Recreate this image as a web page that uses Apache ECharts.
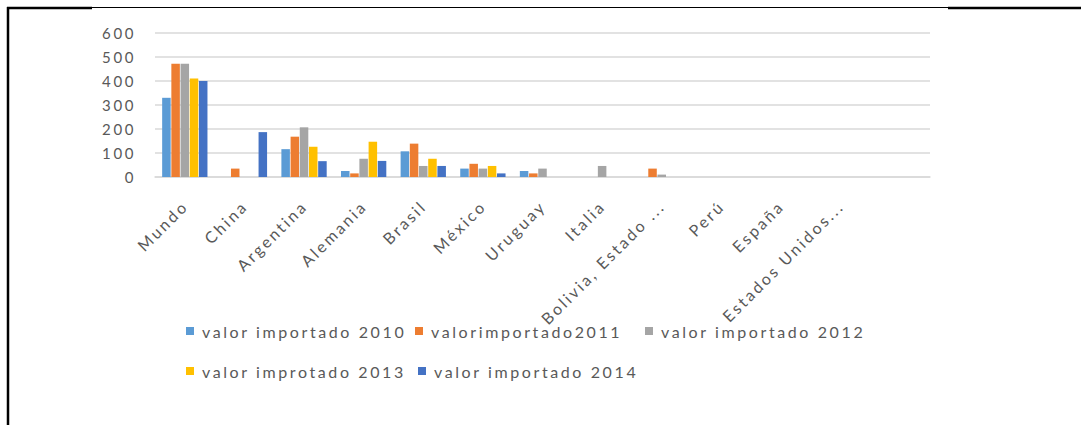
<!DOCTYPE html>
<html>
<head>
<meta charset="utf-8">
<script src="https://cdn.jsdelivr.net/npm/echarts@6/dist/echarts.min.js"></script>
<style>
  html, body { margin: 0; padding: 0; background: #fff; }
  #chart { width: 1081px; height: 425px; }
  /* spaced-out lettering used for the chart labels */
  #chart text { letter-spacing: 2.6px; }
</style>
</head>
<body>
<div id="chart"></div>
<script>
// Countries (the last slot has no name)
const categories = ['Mundo', 'China', 'Argentina', 'Alemania', 'Brasil', 'México', 'Uruguay',
  'Italia', 'Bolivia, Estado ...', 'Perú', 'España', 'Estados Unidos...', ' '];
const seriesNames = ['valor importado 2010', 'valorimportado2011', 'valor importado 2012',
  'valor improtado 2013', 'valor importado 2014'];
const v2010 = [330, 0, 116, 25, 107, 35, 25, 0, 0, 0, 0, 0, 0];
const v2011 = [472, 35, 168, 15, 139, 55, 15, 0, 35, 0, 0, 0, 0];
const v2012 = [472, 0, 207, 76, 46, 35, 35, 46, 10, 0, 0, 0, 0];
const v2013 = [410, 0, 126, 147, 76, 46, 0, 0, 0, 0, 0, 0, 0];
const v2014 = [400, 187, 66, 67, 46, 15, 0, 0, 0, 0, 0, 0, 0];
const yTicks = [0, 100, 200, 300, 400, 500, 600];

const values = [v2010, v2011, v2012, v2013, v2014];
const colors = ['#5B9BD5', '#ED7D31', '#A5A5A5', '#FFC000', '#4472C4'];
const textColor = '#595959';
const font = 'Lato';

// one legend block per series, laid out in two rows
const legendSpots = [
  { left: 186, top: 323 }, { left: 415, top: 323 }, { left: 645, top: 323 },
  { left: 186, top: 363 }, { left: 418, top: 363 }
];
const legends = seriesNames.map((name, i) => ({
  data: [name],
  left: legendSpots[i].left,
  top: legendSpots[i].top,
  itemWidth: 8,
  itemHeight: 8,
  icon: 'rect',
  padding: 0,
  selectedMode: false,
  textStyle: { color: textColor, fontFamily: font, fontSize: 16, padding: [0, 0, 0, 3] }
}));

const chart = echarts.init(document.getElementById('chart'), null, { renderer: 'svg' });
chart.setOption({
  animation: false,
  backgroundColor: '#ffffff',
  legend: legends,
  grid: { left: 155, right: 151, top: 33, bottom: 248, containLabel: false, outerBoundsMode: 'none' },
  xAxis: {
    type: 'category',
    data: categories,
    axisLine: { lineStyle: { color: '#d9d9d9', width: 1.5 } },
    axisTick: { show: false },
    axisLabel: {
      interval: 0, rotate: 45, margin: 26,
      color: textColor, fontFamily: font, fontSize: 16
    }
  },
  yAxis: {
    type: 'value',
    min: yTicks[0],
    max: yTicks[yTicks.length - 1],
    interval: yTicks[1] - yTicks[0],
    axisLine: { show: false },
    axisTick: { show: false },
    axisLabel: { color: textColor, fontFamily: font, fontSize: 15, margin: 19 },
    splitLine: { lineStyle: { color: '#d9d9d9', width: 1.5 } }
  },
  series: seriesNames.map((name, i) => ({
    name,
    type: 'bar',
    data: values[i],
    barCategoryGap: '24%',
    barGap: '8%',
    itemStyle: { color: colors[i] }
  })),
  graphic: [
    // frame lines
    { type: 'line', shape: { x1: 7, y1: 8, x2: 92, y2: 8 }, style: { stroke: '#000', lineWidth: 2.5 } },
    { type: 'line', shape: { x1: 92, y1: 7.5, x2: 948, y2: 7.5 }, style: { stroke: '#000', lineWidth: 1 } },
    { type: 'line', shape: { x1: 948, y1: 8, x2: 1081, y2: 8 }, style: { stroke: '#000', lineWidth: 2.5 } },
    { type: 'line', shape: { x1: 8, y1: 7, x2: 8, y2: 425 }, style: { stroke: '#000', lineWidth: 2.5 } }
  ]
});
</script>
</body>
</html>
